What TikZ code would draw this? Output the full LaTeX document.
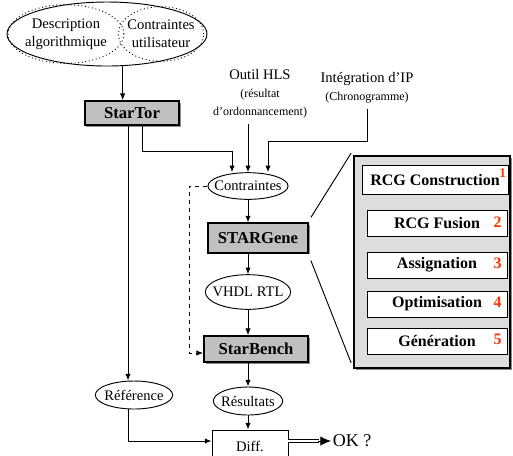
\documentclass[tikz,border=0pt,11pt]{standalone}
\usepackage{fontspec}
\setmainfont{Liberation Serif}
\usetikzlibrary{shapes.geometric,arrows.meta,positioning,calc,shadows}
\definecolor{toolgray}{RGB}{192,192,192}
\definecolor{panelgray}{RGB}{221,221,221}
\definecolor{numred}{RGB}{255,51,0}

\begin{document}
\begin{tikzpicture}[
    x=0.75pt, y=-0.75pt, line width=0.7pt,
    >={Latex[length=5pt,width=4pt]},
    tool/.style={rectangle, draw, line width=1.3pt, fill=toolgray, font=\fontsize{12.5}{15}\selectfont\bfseries,
        drop shadow={shadow xshift=1.2pt, shadow yshift=-1.2pt, opacity=0.9}},
    data/.style={ellipse, draw, inner ysep=1pt},
    stepbox/.style={rectangle, draw, fill=white, font=\large\bfseries,
        minimum width=105pt, minimum height=19.5pt},
    num/.style={font=\large\bfseries, text=numred, inner sep=1pt}
]
    \clip (0,0) rectangle (513,455);

    % sources
    \node[ellipse, draw, minimum width=150pt, minimum height=48pt] (src) at (107,34) {};
    \node[ellipse, draw, dotted, align=center, inner sep=0pt, minimum width=86pt, minimum height=44pt] (desc) at (66,34) {Description\\algorithmique};
    \node[ellipse, draw, dotted, align=center, inner xsep=-3pt, inner ysep=0pt, minimum width=64pt, minimum height=41pt] (user) at (161,34) {Contraintes\\utilisateur};

    \node[tool, minimum width=71pt, minimum height=18pt] (startor) at (132,113) {StarTor};
    \node[align=center] (hls) at (260,94) {Outil HLS\\{\footnotesize (résultat}\\{\footnotesize d’ordonnancement)}};
    \node[align=center] (integ) at (367,88) {Intégration d’IP\\{\footnotesize (Chronogramme)}};

    % main flow
    \node[data, inner xsep=-4pt, minimum width=60pt, minimum height=20pt] (contr) at (248,186) {Contraintes};
    \node[tool, minimum width=75pt, minimum height=22pt] (stargene) at (258,238) {STARGene};
    \node[data, inner xsep=-4pt, minimum width=64pt, minimum height=26pt] (vhdl) at (248,292) {VHDL RTL};
    \node[tool, minimum width=78pt, minimum height=19.5pt] (starbench) at (256,349) {StarBench};
    \node[data, inner xsep=-2pt, minimum width=58pt, minimum height=21pt] (ref) at (134,395) {Référence};
    \node[data, inner xsep=-3pt, minimum width=52pt, minimum height=21pt] (res) at (248,401) {Résultats};
    \node[rectangle, draw, fill=white, minimum width=57pt, minimum height=24pt] (diff) at (250,446) {Diff.};
    \node[font=\fontsize{13.5}{16}\selectfont, anchor=west, inner sep=1pt] (ok) at (331,441) {OK ?};

    % STARGene steps
    \node[rectangle, draw, line width=1.3pt, fill=panelgray, minimum width=117pt, minimum height=159pt,
        drop shadow={shadow xshift=1.2pt, shadow yshift=-1.2pt, opacity=0.9}] (panel) at (432,262) {};
    \node[stepbox, inner xsep=1.5pt, minimum width=109.5pt, minimum height=22pt] (rcgc) at (435,180) {RCG Construction};
    \node[stepbox] (fus) at (437,223.5) {RCG Fusion};
    \node[stepbox] (asg) at (437,265) {Assignation};
    \node[stepbox] (opt) at (437,304) {Optimisation};
    \node[stepbox] (gen) at (437,341) {Génération};
    \node[num, font=\small\bfseries, anchor=north east] (n1) at ([xshift=-0.5pt,yshift=-1.5pt]rcgc.north east) {1};
    \node[num, anchor=east] (n2) at ([xshift=-3pt,yshift=1pt]fus.east) {2};
    \node[num, anchor=east] (n3) at ([xshift=-3pt,yshift=1pt]asg.east) {3};
    \node[num, anchor=east] (n4) at ([xshift=-3pt,yshift=1pt]opt.east) {4};
    \node[num, anchor=east] (n5) at ([xshift=-3pt,yshift=1pt]gen.east) {5};

    \coordinate (bend1) at (232,151);
    \coordinate (bend2) at (268,141);

    \draw[->] (src.-64) -- (src.-64 |- startor.north);
    \draw[->] ([xshift=-3pt]startor.south) -- ([xshift=-3pt]startor.south |- ref.north);
    \draw[->] ([xshift=8pt]startor.south) |- (bend1) -- (bend1 |- contr.north);
    \draw[->] (hls.south -| contr.north) -- (contr.north);
    \draw[->] (integ.south) |- (bend2) -- (bend2 |- contr.north);
    \draw[->] (contr.south) -- (contr.south |- stargene.north);
    \draw[->] (contr.south |- stargene.south) -- (vhdl.north);
    \draw[->] (vhdl.south) -- (vhdl.south |- starbench.north);
    \draw[->] (vhdl.south |- starbench.south) -- (res.north);
    \draw[->] (res.south) -- (res.south |- diff.north);
    \draw[->] ([xshift=-4.5pt]ref.south) |- ([yshift=3.75pt]diff.west);
    \draw[->, dashed] (contr.west) -- ++(-18,0) |- ([yshift=-3pt]starbench.west);
    \draw[double, double distance=2pt] ([yshift=3.75pt]diff.east) -- ([xshift=-9pt]ok.west);
    \draw[-{Latex[length=8pt,width=7pt]}] ([xshift=-10pt]ok.west) -- (ok.west);

    \draw ([shift={(1.5pt,3.75pt)}]stargene.north east) -- ([shift={(-1.5pt,1.5pt)}]panel.north west);
    \draw ([shift={(1.5pt,-5.25pt)}]stargene.south east) -- ([shift={(-1.5pt,4.5pt)}]panel.south west);
\end{tikzpicture}
\end{document}
